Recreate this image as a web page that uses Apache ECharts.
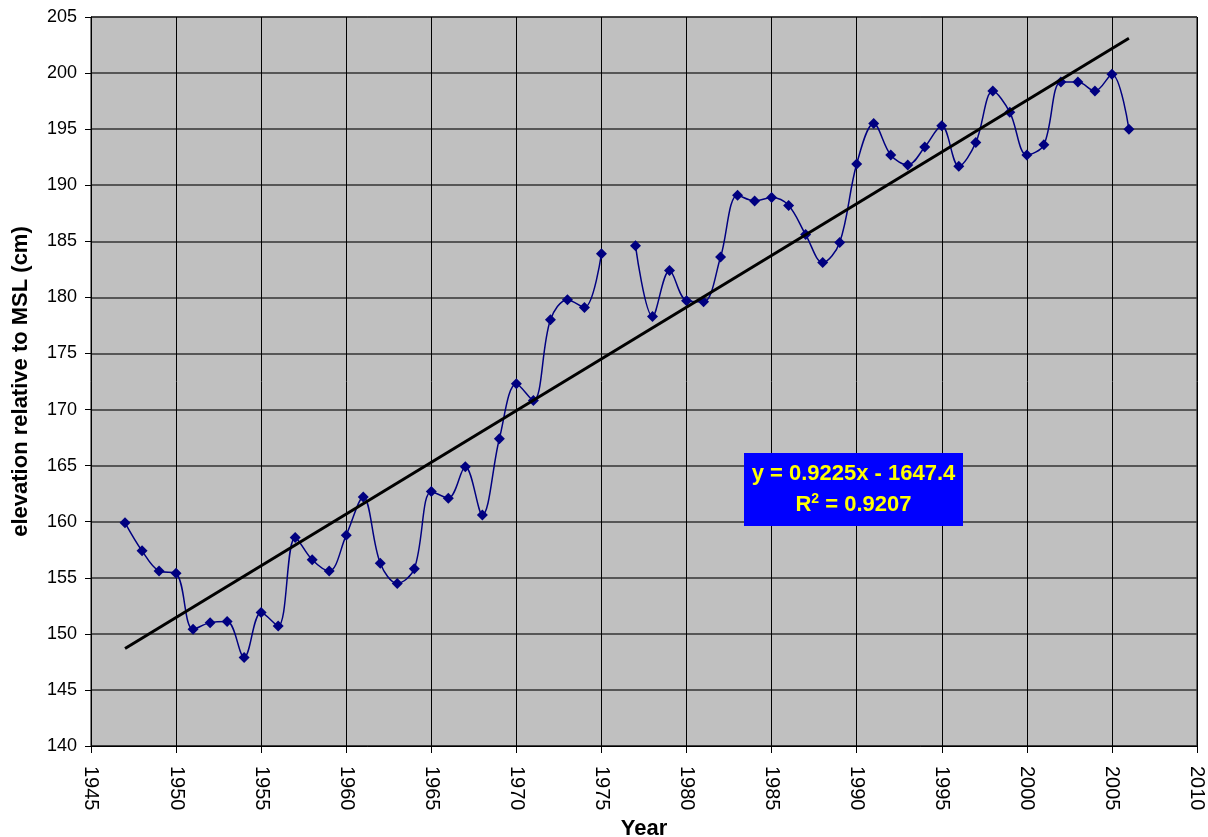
<!DOCTYPE html>
<html><head><meta charset="utf-8">
<script src="https://cdn.jsdelivr.net/npm/echarts@6/dist/echarts.min.js"></script>
<style>html,body{margin:0;padding:0;background:#fff}#c{width:1208px;height:837px}</style>
</head><body><div id="c"></div>
<script>
const years = [1947,1948,1949,1950,1951,1952,1953,1954,1955,1956,1957,1958,1959,1960,1961,1962,1963,1964,1965,1966,1967,1968,1969,1970,1971,1972,1973,1974,1975,1976,1977,1978,1979,1980,1981,1982,1983,1984,1985,1986,1987,1988,1989,1990,1991,1992,1993,1994,1995,1996,1997,1998,1999,2000,2001,2002,2003,2004,2005,2006];
const elevation = [159.9,157.4,155.6,155.4,150.4,151.0,151.1,147.9,151.9,150.7,158.6,156.6,155.6,158.8,162.2,156.3,154.5,155.8,162.7,162.1,164.9,160.6,167.4,172.3,170.8,178.0,179.8,179.1,183.9,null,184.6,178.3,182.4,179.7,179.6,183.6,189.1,188.6,188.9,188.2,185.6,183.1,184.9,191.9,195.5,192.7,191.8,193.4,195.3,191.7,193.8,198.4,196.5,192.7,193.6,199.2,199.2,198.4,199.9,195.0];
const trendYears = [1947, 2006];
const trendValues = [148.7, 203.1];
const equationText = 'y = 0.9225x - 1647.4';
const r2Text = '0.9207';

const chart = echarts.init(document.getElementById('c'));
const font = '"Liberation Sans", Arial, sans-serif';
chart.setOption({
  animation: false,
  backgroundColor: '#fff',
  grid: {left: 91, right: 11, top: 17, bottom: 91, containLabel: false, outerBoundsMode: 'none', show: true, backgroundColor: '#C0C0C0', borderColor: '#000', borderWidth: 1},
  xAxis: {
    type: 'value', min: 1945, max: 2010, interval: 5,
    name: 'Year', nameLocation: 'middle', nameGap: 69,
    nameTextStyle: {fontFamily: font, fontWeight: 'bold', fontSize: 22, color: '#000'},
    axisLine: {lineStyle: {color: '#000', width: 1}},
    axisTick: {show: true, length: 7, lineStyle: {color: '#000'}},
    axisLabel: {rotate: -90, fontFamily: font, fontSize: 20, color: '#000', margin: 20, formatter: v => String(v)},
    splitLine: {show: true, lineStyle: {color: '#000', width: 1}}
  },
  yAxis: {
    type: 'value', min: 140, max: 205, interval: 5,
    name: 'elevation relative to MSL (cm)', nameLocation: 'middle', nameGap: 59, nameRotate: 90,
    nameTextStyle: {fontFamily: font, fontWeight: 'bold', fontSize: 22, color: '#000'},
    axisLine: {show: true, lineStyle: {color: '#000', width: 1}},
    axisTick: {show: true, length: 6, lineStyle: {color: '#000'}},
    axisLabel: {fontFamily: font, fontSize: 18, color: '#000', margin: 14},
    splitLine: {show: true, lineStyle: {color: '#333', width: 1.5}}
  },
  series: [
    {
      type: 'line', data: years.map((y, i) => [y, elevation[i]]),
      smooth: 0.35, connectNulls: false,
      symbol: 'diamond', symbolSize: 11,
      itemStyle: {color: '#000080'},
      lineStyle: {color: '#000080', width: 1.5},
      z: 3
    },
    {
      type: 'line', data: trendYears.map((y, i) => [y, trendValues[i]]),
      symbol: 'none', lineStyle: {color: '#000', width: 3}, z: 4
    }
  ],
  graphic: [{
    type: 'group', left: 744, top: 453, z: 100,
    children: [
      {type: 'rect', z: 100, shape: {x: 0, y: 0, width: 219, height: 73}, style: {fill: '#0000FF'}},
      {type: 'text', z: 101, x: 109.5, y: 21, style: {text: equationText, fill: '#FFFF00', font: 'bold 22px ' + font, textAlign: 'center', textVerticalAlign: 'middle'}},
      {type: 'text', z: 101, x: 109.5, y: 52, style: {
        text: '{b|R}{s|2}{b| = ' + r2Text + '}', textAlign: 'center', textVerticalAlign: 'middle',
        rich: {
          b: {fill: '#FFFF00', color: '#FFFF00', fontFamily: font, fontWeight: 'bold', fontSize: 22},
          s: {fill: '#FFFF00', color: '#FFFF00', fontFamily: font, fontWeight: 'bold', fontSize: 14, verticalAlign: 'top', padding: [0, 0, 12, 0]}
        }
      }}
    ]
  }]
});
</script></body></html>
